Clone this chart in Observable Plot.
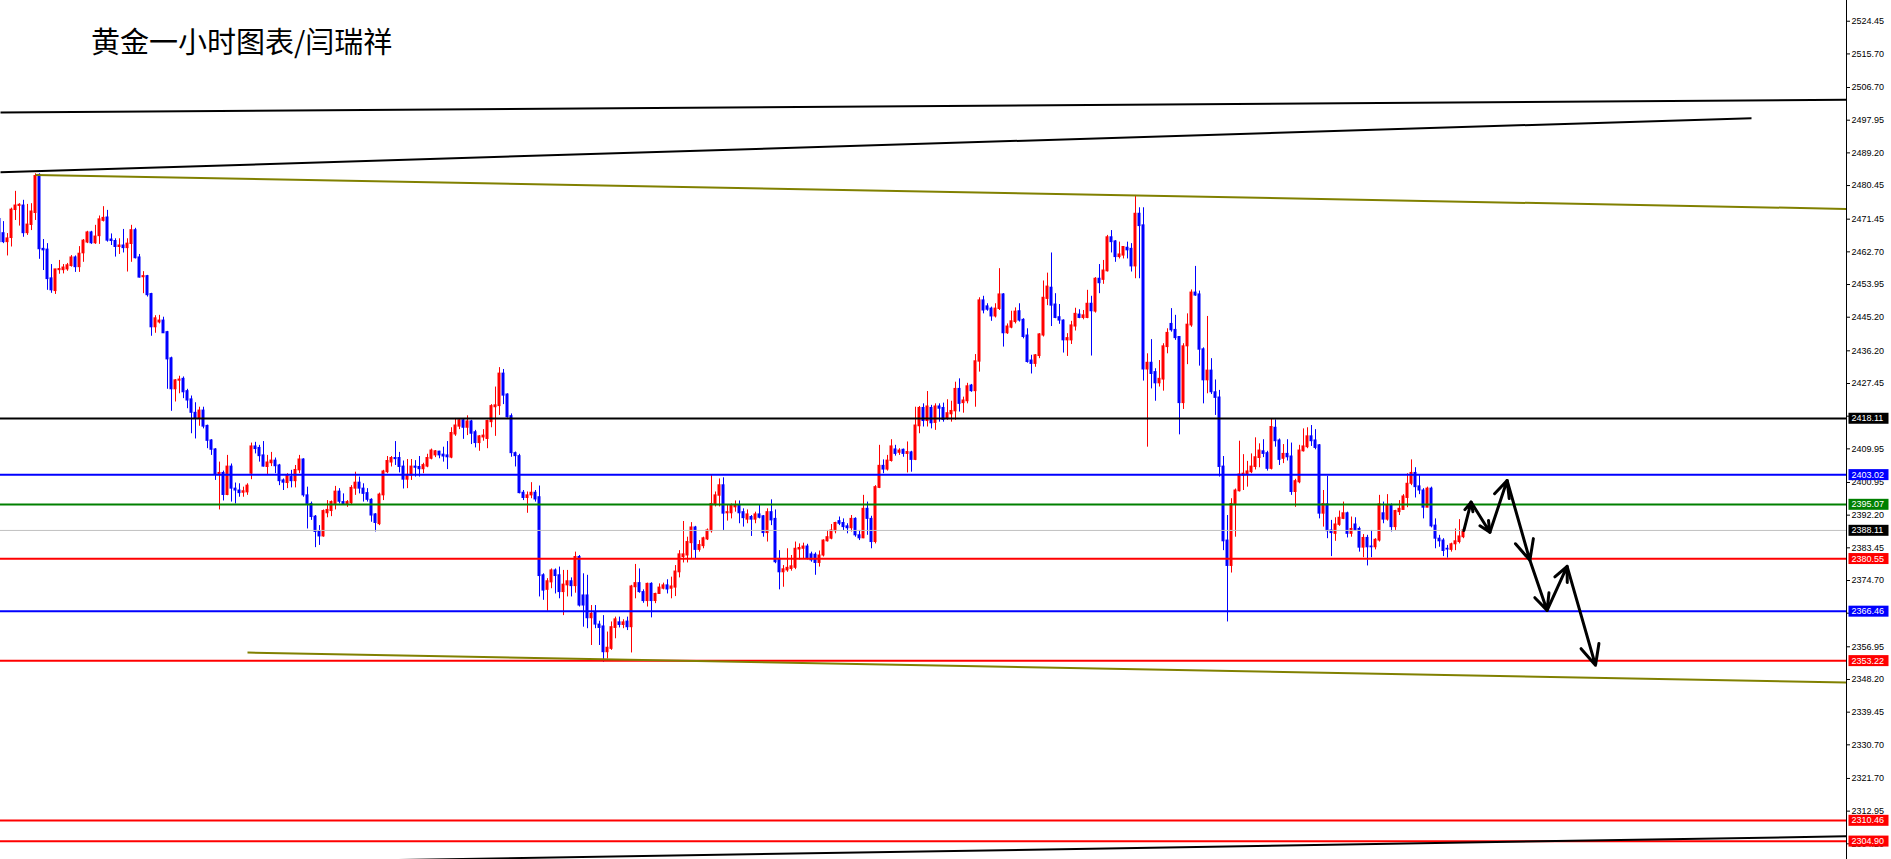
<!DOCTYPE html>
<html>
<head>
<meta charset="utf-8">
<script src="https://cdn.jsdelivr.net/npm/d3@7"></script>
<script src="https://cdn.jsdelivr.net/npm/@observablehq/plot@0.6"></script>
<style>
  html, body { margin: 0; padding: 0; background: #fff; }
  #wrap { position: relative; width: 1891px; height: 859px; overflow: hidden; }
  #title { position: absolute; z-index: 2; left: 91px; top: 26px; font-family: "Noto Sans CJK SC", sans-serif; font-size: 29px; line-height: 29px; color: #000; white-space: nowrap; }
  #wrap svg { position: absolute; left: 0; top: 0; z-index: 1; }
</style>
</head>
<body>
<div id="wrap"><div id="title">黄金一小时图表/闫瑞祥</div></div>
<script>
// ---- candle data (hourly bars, index of first bar = -1, i.e. partly off the left edge)
const firstIndex = -1;
const opens = [
  2471.5,
  2467.7,2465.3,2466.4,2473.9,2475.0,2475.1,2467.7,2469.9,2473.1,2483.3,
  2463.5,2463.3,2455.6,2452.2,2457.8,2457.8,2458.0,2458.9,2461.2,2458.6,
  2462.3,2465.2,2467.9,2465.0,2466.9,2471.0,2471.9,2466.0,2465.6,2464.0,
  2464.4,2463.7,2464.8,2468.5,2461.2,2455.9,2456.2,2451.4,2442.5,2443.8,
  2444.3,2441.2,2434.2,2425.9,2428.2,2428.7,2425.4,2423.2,2419.6,2418.2,
  2420.2,2416.1,2412.2,2409.8,2403.2,2403.5,2397.6,2405.2,2399.3,2398.8,
  2398.2,2398.3,2403.3,2410.6,2410.2,2408.2,2405.1,2406.1,2406.8,2405.5,
  2401.5,2400.8,2402.4,2401.3,2404.2,2407.1,2397.5,2395.2,2391.8,2387.9,
  2386.5,2392.7,2393.3,2395.2,2398.5,2395.7,2395.2,2395.4,2399.3,2400.9,
  2399.3,2398.1,2396.3,2392.4,2389.8,2397.5,2403.7,2406.3,2407.5,2407.5,
  2405.2,2401.7,2402.8,2405.2,2405.1,2404.5,2405.2,2407.3,2408.2,2409.2,
  2408.4,2408.2,2407.6,2413.8,2415.9,2417.6,2415.6,2417.3,2414.4,2411.5,
  2413.0,2412.6,2417.1,2421.1,2421.4,2430.1,2424.5,2418.7,2408.8,2408.0,
  2398.2,2396.8,2397.5,2398.2,2397.0,2376.1,2372.2,2374.2,2377.4,2376.1,
  2371.6,2373.4,2374.5,2373.2,2381.0,2370.7,2370.7,2364.6,2366.0,2362.9,
  2362.4,2355.5,2356.4,2362.0,2363.5,2362.8,2363.7,2362.2,2372.9,2374.0,
  2371.6,2369.2,2373.8,2369.2,2371.1,2372.5,2373.4,2372.5,2372.8,2376.9,
  2381.0,2381.4,2384.7,2388.9,2382.9,2383.9,2385.7,2387.9,2395.1,2397.4,
  2400.2,2392.7,2392.7,2394.3,2394.8,2393.0,2391.0,2391.7,2391.0,2392.4,
  2391.9,2387.4,2393.0,2391.2,2380.5,2376.9,2377.4,2377.8,2378.1,2383.0,
  2383.2,2383.8,2381.7,2381.6,2379.4,2381.4,2385.2,2385.9,2387.9,2390.6,
  2390.1,2389.2,2388.7,2391.2,2386.8,2386.0,2393.9,2391.2,2385.0,2399.5,
  2405.4,2404.4,2406.7,2409.8,2408.9,2409.7,2408.6,2409.0,2407.0,2416.0,
  2420.9,2417.4,2420.9,2416.9,2421.3,2420.9,2418.0,2419.2,2420.0,2426.0,
  2422.2,2422.7,2426.9,2425.4,2433.3,2449.7,2448.1,2447.5,2445.4,2447.4,
  2451.3,2440.9,2442.4,2443.9,2446.8,2444.5,2440.3,2433.6,2432.7,2434.8,
  2440.3,2450.1,2453.1,2448.6,2445.2,2444.3,2439.0,2439.0,2442.7,2445.9,
  2445.0,2445.0,2448.8,2446.7,2455.5,2455.2,2457.5,2466.6,2465.5,2461.3,
  2461.7,2463.8,2463.5,2458.8,2472.9,2469.8,2431.2,2433.0,2430.5,2427.5,
  2428.5,2437.2,2443.4,2441.8,2439.9,2422.2,2437.4,2443.0,2451.8,2451.3,
  2436.6,2428.3,2430.9,2425.1,2423.7,2405.2,2385.4,2378.6,2395.1,2398.6,
  2402.8,2403.1,2403.7,2405.1,2407.5,2409.3,2408.8,2404.6,2415.6,2412.2,
  2407.3,2408.6,2407.9,2398.4,2401.0,2409.3,2410.4,2413.3,2412.2,2410.9,
  2392.6,2395.1,2388.1,2387.2,2389.6,2391.2,2392.7,2387.2,2389.7,2388.5,
  2383.5,2386.1,2383.8,2383.6,2385.4,2392.7,2391.0,2394.8,2389.0,2393.0,
  2393.6,2396.8,2400.6,2403.5,2399.9,2398.8,2394.2,2399.3,2389.4,2385.9,
  2385.4,2383.2,2382.9,2384.4,2385.0,2386.3
];
const closes = [
  2465.3,
  2465.3,2466.3,2474.0,2475.1,2475.3,2467.7,2470.0,2473.5,2483.0,2463.4,
  2463.1,2455.4,2452.4,2458.0,2458.1,2458.5,2459.1,2461.2,2458.6,2462.2,
  2465.7,2467.9,2465.0,2466.8,2471.4,2471.8,2465.7,2465.6,2464.0,2464.4,
  2463.7,2464.9,2468.5,2461.0,2455.8,2456.2,2451.1,2442.5,2444.9,2444.3,
  2440.9,2433.9,2425.9,2428.3,2428.5,2425.1,2422.9,2419.6,2418.2,2420.2,
  2415.9,2412.1,2409.7,2403.2,2403.5,2397.6,2405.2,2399.3,2398.8,2398.1,
  2398.6,2400.1,2410.6,2409.9,2408.0,2405.2,2406.3,2406.8,2405.3,2401.3,
  2400.9,2402.8,2401.3,2404.3,2407.1,2397.5,2395.2,2391.7,2387.7,2386.5,
  2393.3,2393.6,2395.7,2398.5,2395.8,2395.1,2395.7,2399.5,2400.9,2399.3,
  2397.9,2396.3,2392.1,2390.1,2397.7,2403.9,2406.7,2407.5,2407.2,2405.1,
  2401.7,2403.0,2405.2,2404.9,2404.5,2405.6,2407.5,2409.5,2409.3,2408.2,
  2407.9,2407.7,2414.2,2416.2,2417.6,2415.6,2417.3,2414.0,2411.5,2413.3,
  2413.5,2417.4,2421.4,2421.6,2430.1,2424.2,2418.4,2408.8,2408.0,2398.1,
  2396.8,2397.5,2398.2,2396.4,2375.9,2372.0,2374.5,2377.4,2375.9,2371.6,
  2373.6,2374.5,2373.2,2381.0,2368.0,2368.0,2364.6,2365.8,2362.9,2362.0,
  2355.5,2356.7,2362.2,2364.3,2362.8,2363.5,2362.2,2373.1,2374.0,2371.6,
  2369.2,2373.8,2369.2,2371.1,2372.8,2373.4,2372.3,2373.1,2377.1,2381.7,
  2381.7,2385.0,2388.9,2382.9,2384.2,2386.0,2388.1,2395.2,2397.5,2400.2,
  2392.6,2393.0,2394.8,2394.8,2392.7,2391.4,2392.4,2391.0,2392.4,2391.5,
  2387.4,2393.0,2390.8,2379.6,2376.9,2377.7,2378.1,2378.5,2383.2,2383.4,
  2383.8,2380.5,2380.1,2379.4,2381.4,2385.4,2386.3,2388.1,2390.1,2389.9,
  2389.0,2388.7,2391.2,2386.8,2386.0,2393.9,2391.2,2385.0,2399.7,2405.4,
  2404.4,2406.8,2410.6,2408.6,2409.5,2408.6,2409.1,2407.0,2416.2,2420.9,
  2417.4,2421.3,2416.8,2421.3,2420.7,2417.7,2419.5,2420.1,2426.0,2422.0,
  2422.9,2426.7,2425.4,2433.4,2449.7,2447.0,2447.2,2445.4,2447.5,2451.3,
  2440.9,2442.7,2444.1,2446.7,2444.3,2439.9,2433.2,2432.7,2435.0,2440.6,
  2450.4,2453.4,2448.3,2445.0,2444.3,2439.0,2439.6,2443.0,2446.1,2445.0,
  2445.7,2448.8,2446.8,2455.5,2454.3,2457.7,2466.6,2465.3,2461.3,2462.0,
  2464.0,2463.1,2458.8,2472.9,2469.6,2431.2,2433.0,2430.0,2427.5,2428.7,
  2437.4,2441.0,2441.7,2439.6,2422.2,2437.4,2443.2,2451.8,2451.0,2436.5,
  2428.3,2430.9,2425.1,2423.6,2405.1,2385.2,2378.6,2395.2,2398.8,2403.1,
  2403.3,2403.9,2405.2,2407.7,2409.5,2408.6,2404.6,2415.8,2412.0,2407.0,
  2408.6,2407.7,2398.4,2401.3,2409.5,2410.6,2413.3,2412.0,2410.2,2392.6,
  2395.2,2387.9,2387.4,2389.7,2391.5,2392.7,2387.2,2388.5,2388.1,2383.5,
  2386.1,2383.6,2383.6,2385.6,2395.1,2391.0,2394.8,2389.0,2393.3,2393.9,
  2397.2,2400.6,2403.5,2399.7,2398.8,2394.2,2399.3,2389.2,2385.9,2385.2,
  2382.6,2383.0,2384.4,2385.2,2386.5,2388.1
];
const highs = [
  2472.0,
  2470.8,2467.6,2474.4,2478.9,2475.6,2476.5,2475.4,2475.6,2483.6,2483.6,
  2466.0,2464.9,2459.3,2458.0,2460.4,2459.3,2459.6,2461.7,2461.6,2464.1,
  2466.0,2468.2,2468.2,2469.8,2472.3,2474.8,2473.8,2467.5,2466.2,2466.2,
  2468.7,2466.2,2469.8,2469.0,2462.0,2457.4,2456.4,2451.6,2445.6,2445.7,
  2445.2,2441.4,2434.5,2428.5,2429.4,2429.2,2425.9,2424.1,2422.3,2421.1,
  2421.1,2416.3,2412.4,2410.0,2406.4,2404.0,2408.2,2405.9,2400.8,2400.6,
  2399.7,2400.6,2411.5,2411.7,2410.9,2411.9,2408.2,2409.0,2407.5,2405.8,
  2401.9,2403.3,2404.2,2405.5,2408.2,2407.3,2399.7,2395.7,2392.1,2389.4,
  2393.6,2396.1,2396.0,2399.9,2399.3,2397.9,2396.1,2400.1,2403.7,2402.4,
  2400.6,2399.3,2396.6,2392.6,2398.1,2404.2,2407.9,2407.9,2411.9,2409.0,
  2406.7,2407.1,2407.1,2406.8,2407.9,2406.1,2408.5,2409.9,2409.5,2409.3,
  2410.4,2411.9,2415.6,2417.8,2417.8,2417.8,2418.8,2417.6,2414.9,2413.5,
  2415.1,2417.6,2421.8,2426.5,2431.7,2431.2,2424.7,2419.3,2409.1,2408.5,
  2398.8,2398.4,2400.9,2398.8,2400.0,2376.5,2375.2,2377.8,2377.8,2378.3,
  2377.4,2377.4,2375.4,2382.3,2381.4,2376.5,2376.1,2368.0,2368.0,2363.8,
  2365.3,2360.9,2363.6,2364.9,2364.9,2364.2,2364.9,2373.4,2379.0,2377.8,
  2372.2,2374.0,2374.1,2371.3,2373.8,2374.0,2374.9,2375.6,2378.7,2382.7,
  2390.5,2386.3,2390.2,2389.2,2385.4,2386.3,2388.5,2402.8,2398.4,2401.9,
  2402.2,2394.8,2395.2,2396.0,2396.0,2393.9,2393.6,2392.1,2393.0,2394.8,
  2392.1,2393.9,2396.3,2393.6,2382.7,2378.7,2383.2,2381.4,2385.0,2384.5,
  2384.7,2384.4,2382.3,2382.1,2382.6,2385.6,2388.1,2389.7,2390.3,2391.7,
  2391.2,2389.9,2392.1,2391.5,2388.1,2397.5,2395.7,2391.9,2400.1,2410.9,
  2407.0,2408.2,2412.4,2410.9,2410.0,2409.9,2411.8,2409.3,2421.1,2421.3,
  2422.0,2425.3,2421.6,2422.0,2422.0,2422.2,2423.1,2422.7,2427.8,2428.7,
  2423.8,2427.5,2427.2,2435.2,2450.4,2450.8,2448.8,2447.9,2448.8,2458.2,
  2451.5,2443.4,2446.8,2447.7,2448.8,2444.8,2442.1,2435.0,2435.2,2440.8,
  2454.9,2457.0,2462.4,2451.5,2448.6,2444.5,2440.8,2444.1,2447.6,2447.2,
  2447.0,2452.4,2450.8,2455.8,2459.3,2460.4,2467.1,2468.4,2465.7,2465.3,
  2464.1,2465.3,2464.9,2477.8,2474.5,2474.5,2435.4,2439.2,2431.4,2433.6,
  2438.1,2442.1,2447.5,2445.7,2440.0,2438.1,2446.1,2452.5,2458.8,2452.2,
  2437.0,2445.4,2434.1,2428.4,2425.6,2407.9,2392.1,2396.6,2399.2,2412.0,
  2408.4,2406.6,2408.6,2412.9,2411.3,2412.4,2409.3,2418.0,2417.7,2412.6,
  2411.1,2412.4,2411.5,2401.8,2410.9,2415.3,2415.6,2416.2,2415.1,2411.1,
  2398.8,2402.6,2390.8,2391.5,2393.3,2395.7,2393.0,2391.7,2391.5,2389.0,
  2387.0,2386.8,2388.1,2385.9,2397.5,2395.7,2397.7,2395.2,2393.5,2396.1,
  2397.7,2403.3,2407.0,2404.9,2402.8,2399.3,2399.7,2399.7,2391.2,2386.8,
  2385.9,2384.1,2384.7,2388.5,2391.0,2388.5
];
const lows = [
  2464.9,
  2464.9,2461.6,2464.0,2471.1,2469.6,2466.6,2467.1,2468.4,2471.1,2460.7,
  2457.7,2452.4,2451.6,2451.3,2456.7,2456.8,2457.5,2458.6,2457.2,2457.2,
  2459.9,2464.9,2464.7,2464.7,2464.7,2470.7,2465.3,2464.4,2461.3,2462.0,
  2462.4,2457.3,2459.9,2460.8,2455.7,2451.5,2450.6,2440.1,2440.9,2443.4,
  2440.9,2425.9,2420.0,2422.5,2424.7,2423.4,2420.7,2414.0,2412.6,2416.0,
  2415.3,2410.0,2408.2,2401.5,2393.6,2396.0,2397.4,2395.7,2395.2,2397.0,
  2397.0,2397.5,2401.7,2408.6,2406.4,2405.1,2403.1,2405.2,2403.3,2400.1,
  2398.8,2399.3,2399.5,2399.5,2403.3,2397.0,2388.5,2390.8,2383.5,2384.1,
  2386.3,2391.5,2391.8,2393.6,2395.2,2394.8,2394.3,2394.8,2397.5,2397.9,
  2395.7,2395.7,2390.3,2387.7,2389.4,2396.1,2403.3,2405.1,2405.5,2403.5,
  2399.2,2399.3,2401.5,2402.4,2402.4,2403.3,2404.9,2407.0,2407.6,2407.3,
  2406.4,2404.4,2407.3,2413.3,2415.1,2412.5,2413.5,2411.1,2410.2,2409.3,
  2412.0,2410.0,2415.6,2413.3,2418.9,2421.8,2418.2,2407.7,2405.1,2397.9,
  2396.1,2392.7,2396.6,2395.7,2370.3,2369.4,2366.5,2372.5,2371.1,2369.8,
  2365.3,2370.3,2370.3,2371.3,2367.6,2362.2,2361.8,2357.3,2361.8,2357.3,
  2352.8,2353.7,2356.0,2359.1,2362.0,2361.8,2361.3,2355.3,2369.8,2371.3,
  2368.6,2367.6,2364.7,2368.5,2371.0,2372.2,2371.1,2369.8,2370.4,2375.4,
  2379.4,2379.4,2380.5,2380.5,2382.3,2383.2,2385.4,2387.4,2394.4,2394.4,
  2388.1,2390.6,2391.2,2393.0,2389.9,2389.0,2389.9,2386.5,2389.9,2391.2,
  2386.3,2385.0,2389.4,2379.2,2372.2,2372.9,2376.9,2377.2,2377.6,2380.2,
  2380.5,2380.2,2379.6,2376.1,2378.3,2381.0,2385.0,2385.6,2387.2,2389.4,
  2388.1,2387.2,2387.7,2386.3,2385.4,2385.9,2386.8,2383.2,2384.5,2399.3,
  2403.3,2404.0,2406.4,2408.0,2408.2,2407.7,2403.5,2403.7,2406.8,2414.0,
  2415.8,2415.8,2415.3,2414.9,2417.1,2417.1,2417.6,2417.1,2417.6,2419.8,
  2419.5,2422.0,2425.1,2421.1,2430.5,2446.1,2446.8,2444.1,2445.0,2447.0,
  2437.2,2440.6,2442.1,2443.4,2443.9,2439.4,2432.9,2430.0,2431.8,2434.1,
  2439.9,2448.3,2442.7,2444.8,2443.3,2435.6,2434.7,2437.9,2441.5,2444.8,
  2444.5,2444.8,2434.8,2446.3,2451.5,2454.0,2457.3,2462.4,2459.9,2460.8,
  2460.8,2460.8,2457.3,2455.5,2455.5,2428.1,2410.4,2426.0,2422.7,2426.5,
  2425.4,2435.4,2441.2,2439.0,2413.7,2420.5,2432.5,2442.5,2450.8,2432.1,
  2422.0,2424.7,2424.5,2418.9,2402.4,2382.7,2363.6,2376.7,2386.3,2398.4,
  2398.8,2399.7,2403.3,2404.3,2404.9,2407.6,2404.0,2404.3,2410.4,2405.5,
  2406.0,2406.7,2397.5,2394.3,2400.6,2409.1,2410.0,2410.6,2409.7,2391.2,
  2389.0,2385.9,2381.1,2385.2,2389.2,2391.0,2386.1,2386.3,2387.9,2382.3,
  2380.8,2378.6,2380.8,2382.9,2385.0,2389.9,2390.6,2387.7,2388.1,2392.1,
  2393.6,2394.2,2400.1,2396.8,2397.7,2391.2,2394.2,2388.8,2383.2,2383.6,
  2381.1,2380.7,2382.3,2382.7,2384.5,2385.9
];

// ---- horizontal levels (price, line colour, label box colour)
const levelValues = [2418.11, 2403.02, 2395.07, 2388.11, 2380.55, 2366.46, 2353.22, 2310.46, 2304.90];
const levelLineColors = ["#000000", "#0000ff", "#008000", "#c0c0c0", "#ff0000", "#0000ff", "#ff0000", "#ff0000", "#ff0000"];
const levelBoxColors  = ["#000000", "#0000ff", "#008000", "#000000", "#ff0000", "#0000ff", "#ff0000", "#ff0000", "#ff0000"];

// ---- price-axis tick labels
const yTicks = [2524.45, 2515.70, 2506.70, 2497.95, 2489.20, 2480.45, 2471.45, 2462.70, 2453.95, 2445.20,
  2436.20, 2427.45, 2418.70, 2409.95, 2400.95, 2392.20, 2383.45, 2374.70, 2365.95, 2356.95,
  2348.20, 2339.45, 2330.70, 2321.70, 2312.95, 2304.20];

// ---- trend lines (bar index / price at both ends)
const trendNames  = ["upper channel", "mid channel", "olive top", "olive bottom", "lower channel"];
const trendX1 = [-0.75, -0.75, 8, 61, 95];
const trendY1 = [2500.0, 2484.0, 2483.3, 2355.4, 2299.8];
const trendX2 = [460.75, 437, 460.75, 460.75, 460.75];
const trendY2 = [2503.4, 2498.5, 2474.2, 2347.4, 2306.2];
const trendColors = ["#000000", "#000000", "#808000", "#808000", "#000000"];

// ---- projected path (zig-zag arrows)
const pathX = [365.1, 366.9, 371.6, 375.9, 381.6, 385.9, 390.9, 398.0];
const pathY = [2388.1, 2395.7, 2387.6, 2401.5, 2380.1, 2366.7, 2378.5, 2352.0];

const xDomain = [-0.75, 460.75];
const priceDomain = [2300, 2530];
const upColor = "#ff0000", downColor = "#0000ff";

const candles = opens.map((o, j) => {
  const c = closes[j];
  return {
    i: firstIndex + j, open: o, close: c,
    high: Math.max(highs[j], o, c), low: Math.min(lows[j], o, c),
    color: c >= o ? upColor : downColor
  };
});
const levels = levelValues.map((v, j) => ({value: v, label: v.toFixed(2), line: levelLineColors[j], box: levelBoxColors[j]}));
const trends = trendNames.map((n, j) => ({name: n, x1: trendX1[j], y1: trendY1[j], x2: trendX2[j], y2: trendY2[j], color: trendColors[j]}));
const arrows = pathX.slice(1).map((x, j) => ({x1: pathX[j], y1: pathY[j], x2: x, y2: pathY[j + 1]}));

const svg = Plot.plot({
  width: 1891, height: 859,
  marginLeft: 0, marginRight: 45, marginTop: 0, marginBottom: 0,
  style: {fontFamily: "'Liberation Sans', Arial, sans-serif", fontSize: "9px", background: "#ffffff", overflow: "visible"},
  x: {type: "linear", domain: xDomain, axis: null},
  y: {type: "linear", domain: priceDomain},
  color: {type: "identity"},
  marks: [
    Plot.ruleX(candles, {x: "i", y1: "low", y2: "high", stroke: "color", strokeWidth: 1}),
    Plot.rect(candles, {x1: d => d.i - 0.375, x2: d => d.i + 0.375, y1: "open", y2: "close", fill: "color", insetTop: -0.5, insetBottom: -0.5}),
    Plot.ruleY(levels.filter(d => d.line !== "#c0c0c0"), {y: "value", stroke: "line", strokeWidth: 2}),
    Plot.ruleY(levels.filter(d => d.line === "#c0c0c0"), {y: "value", stroke: "line", strokeWidth: 1}),
    Plot.link(trends, {x1: "x1", y1: "y1", x2: "x2", y2: "y2", stroke: "color", strokeWidth: 2, clip: true}),
    Plot.arrow(arrows, {x1: "x1", y1: "y1", x2: "x2", y2: "y2", stroke: "#000", strokeWidth: 3, headLength: 11, headAngle: 50, insetStart: 0, insetEnd: 0}),
    Plot.ruleX([xDomain[1]], {stroke: "#000", strokeWidth: 1}),
    Plot.axisY(yTicks, {anchor: "right", tickSize: 3, tickPadding: 2, tickFormat: d => d.toFixed(2), label: null, fill: "#000"}),
    Plot.text(levels, {y: "value", frameAnchor: "right", dx: 5, text: "label", fill: "#ffffff", textAnchor: "start"})
  ]
});
document.getElementById("wrap").appendChild(svg);

// coloured boxes behind the level price labels on the price axis
const labelMap = new Map(levels.map(d => [d.label, d.box]));
svg.querySelectorAll("text").forEach(t => {
  const g = t.parentNode;
  const gl = (g && g.getAttribute && g.getAttribute("aria-label")) || "";
  if (gl.includes("tick")) return; // skip axis tick labels
  const key = t.textContent.trim();
  if (!labelMap.has(key)) return;
  const b = t.getBBox();
  const r = document.createElementNS("http://www.w3.org/2000/svg", "rect");
  r.setAttribute("x", b.x - 3);
  r.setAttribute("y", b.y - 0.5);
  r.setAttribute("width", 40);
  r.setAttribute("height", b.height + 1);
  r.setAttribute("fill", labelMap.get(key));
  const tr = t.getAttribute("transform");
  if (tr) r.setAttribute("transform", tr);
  g.insertBefore(r, t);
});
</script>
</body>
</html>
